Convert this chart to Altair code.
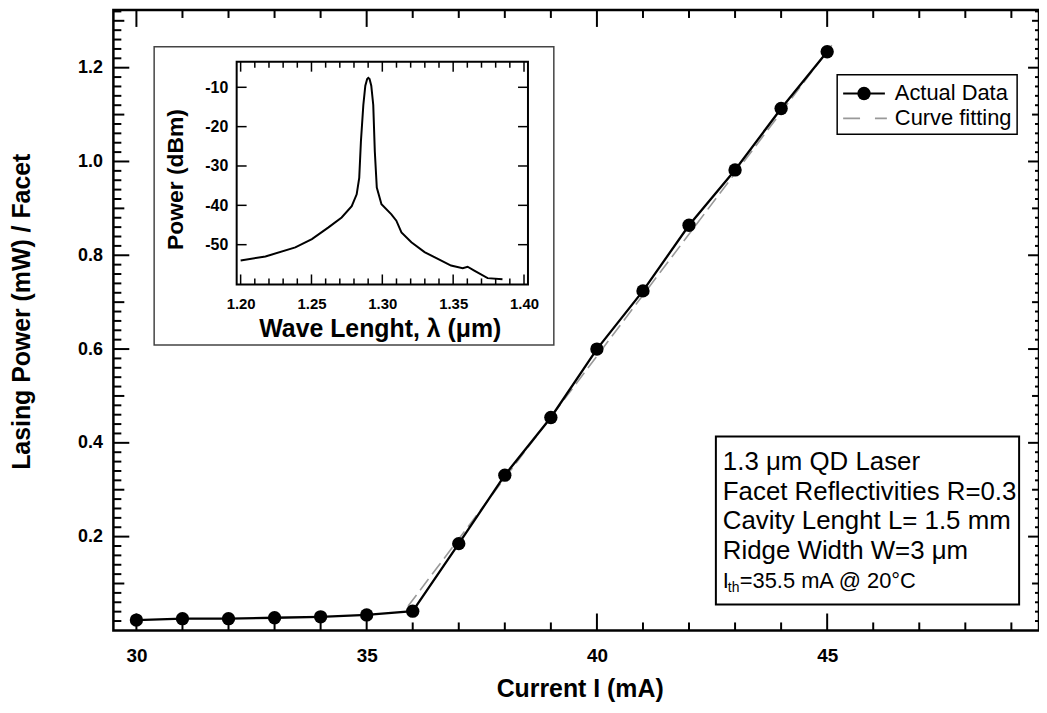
import altair as alt
import pandas as pd

# ---------------- data ----------------
current_mA = [30, 31, 32, 33, 34, 35, 36, 37, 38, 39, 40, 41, 42, 43, 44, 45]
power_mW = [0.022, 0.025, 0.025, 0.027, 0.029, 0.033, 0.041, 0.185, 0.331,
            0.454, 0.600, 0.724, 0.864, 0.982, 1.113, 1.234]
fit_current_mA = [35.9, 45.1]
fit_power_mW = [0.052, 1.248]

wavelength_um = [1.2000, 1.2175, 1.2386, 1.2503, 1.2620, 1.2713, 1.2784, 1.2819,
                 1.2837, 1.2849, 1.2866, 1.2880, 1.2893, 1.2901, 1.2910, 1.2922,
                 1.2936, 1.2947, 1.2961, 1.2994, 1.3064, 1.3099, 1.3135, 1.3205,
                 1.3298, 1.3392, 1.3485, 1.3567, 1.3602, 1.3649, 1.3743, 1.3848]
spectrum_dBm = [-54.0, -53.0, -50.7, -48.6, -45.6, -43.1, -40.2, -37.2,
                -33.0, -23.7, -14.5, -9.6, -7.9, -7.6, -7.9, -9.6,
                -14.5, -26.3, -35.5, -39.7, -42.3, -43.9, -46.9, -49.4,
                -51.9, -53.6, -55.3, -56.0, -55.6, -56.6, -58.5, -58.8]

x_major_ticks = [30, 35, 40, 45]
y_major_ticks = [0.2, 0.4, 0.6, 0.8, 1.0, 1.2]
y_mid_ticks = [0.1, 0.3, 0.5, 0.7, 0.9, 1.1, 1.3]
inset_x_ticks = [1.20, 1.25, 1.30, 1.35, 1.40]
inset_y_ticks = [-50, -40, -30, -20, -10]

legend_labels = ["Actual Data", "Curve fitting"]
info_lines = ["1.3 μm QD Laser", "Facet Reflectivities R=0.3",
              "Cavity Lenght L= 1.5 mm", "Ridge Width W=3 μm"]
info_last = ["I", "th", "=35.5 mA @ 20°C"]

# minor tick positions
x_minor_ticks = [v for v in range(30, 50) if v % 5 != 0]
y_minor_ticks = [round(0.02 * i, 2) for i in range(1, 67) if i % 5 != 0]
inset_x_minor = [round(1.20 + 0.01 * i, 2) for i in range(21) if i % 5 != 0]

# ---------------- layout ----------------
W, H = 931, 624
FONT = "Liberation Sans, Arial, sans-serif"
NARROW = "Liberation Sans Narrow, Liberation Sans, Arial, sans-serif"

X_DOM = [29.5, 49.6]
Y_DOM = [0, 1.323]
xs = alt.Scale(domain=X_DOM, nice=False, zero=False)
ys = alt.Scale(domain=Y_DOM, nice=False, zero=False)

IX_RANGE = [124, 417]
IY_RANGE = [276, 52]
ixs = alt.Scale(domain=[1.1972, 1.4028], range=IX_RANGE, nice=False, zero=False)
iys = alt.Scale(domain=[-60.1, -3.5], range=IY_RANGE, nice=False, zero=False)

one = alt.Data(values=[{}])


def vticks(values, scale, y0, y1, width=2):
    return alt.Chart(pd.DataFrame({"v": values})).mark_rule(
        color="black", strokeWidth=width).encode(
        x=alt.X("v:Q", scale=scale, axis=None),
        y=alt.value(y0), y2=alt.value(y1))


def hticks(values, scale, x0, x1, width=2):
    return alt.Chart(pd.DataFrame({"v": values})).mark_rule(
        color="black", strokeWidth=width).encode(
        y=alt.Y("v:Q", scale=scale, axis=None),
        x=alt.value(x0), x2=alt.value(x1))


# ---------------- main layers ----------------
inset_box = alt.Chart(one).mark_rect(fill="white", stroke="#444", strokeWidth=1.5).encode(
    x=alt.value(41), x2=alt.value(443), y=alt.value(37), y2=alt.value(337))

main_ticks = [
    vticks(x_major_ticks, xs, H, H - 17),
    vticks(x_minor_ticks, xs, H, H - 8),
    vticks(x_major_ticks, xs, 0, 17),
    vticks(x_minor_ticks, xs, 0, 8),
    hticks(y_major_ticks, ys, 0, 16),
    hticks(y_mid_ticks, ys, 0, 11),
    hticks(y_minor_ticks, ys, 0, 8),
    hticks(y_major_ticks, ys, W, W - 11),
    hticks(y_mid_ticks, ys, W, W - 7),
    hticks(y_minor_ticks, ys, W, W - 4),
]

df = pd.DataFrame({"I": current_mA, "P": power_mW})
fit_df = pd.DataFrame({"I": fit_current_mA, "P": fit_power_mW})

fit_line = alt.Chart(fit_df).mark_line(color="#999999", strokeWidth=1.6, strokeDash=[14, 6]).encode(
    x=alt.X("I:Q", scale=xs, axis=None), y=alt.Y("P:Q", scale=ys, axis=None))

data_line = alt.Chart(df).mark_line(color="black", strokeWidth=2.3).encode(
    x=alt.X("I:Q", scale=xs, title="Current I (mA)",
            axis=alt.Axis(orient="bottom", values=x_major_ticks, format="d", ticks=False,
                          tickSize=0, domain=False, grid=False, labelFont=NARROW,
                          labelFontSize=19, labelFontWeight="bold", labelPadding=16,
                          labelColor="black", titleFont=NARROW, titleFontSize=25,
                          titleFontWeight="bold", titleColor="black", titleX=469,
                          titleY=58, titleBaseline="middle")),
    y=alt.Y("P:Q", scale=ys, title="Lasing Power (mW) / Facet",
            axis=alt.Axis(orient="left", values=y_major_ticks, format=".1f", ticks=False,
                          tickSize=0, domain=False, grid=False, labelFont=FONT,
                          labelFontSize=18, labelFontWeight="bold", labelPadding=11,
                          labelColor="black", titleFont=FONT, titleFontSize=25,
                          titleFontWeight="bold", titleColor="black", titleX=-92,
                          titleY=303, titleBaseline="middle")))

data_pts = alt.Chart(df).mark_circle(size=180, color="black", opacity=1).encode(
    x=alt.X("I:Q", scale=xs, axis=None), y=alt.Y("P:Q", scale=ys, axis=None))

# legend (drawn by hand)
leg_box = alt.Chart(one).mark_rect(fill="white", stroke="black", strokeWidth=1.5).encode(
    x=alt.value(728), x2=alt.value(909), y=alt.value(65), y2=alt.value(125))
leg_line1 = alt.Chart(one).mark_rule(color="black", strokeWidth=2).encode(
    x=alt.value(734), x2=alt.value(776), y=alt.value(84))
leg_dot = alt.Chart(one).mark_circle(size=180, color="black", opacity=1).encode(
    x=alt.value(755), y=alt.value(84))
leg_line2 = alt.Chart(one).mark_rule(color="#999999", strokeWidth=1.6, strokeDash=[17, 15]).encode(
    x=alt.value(734), x2=alt.value(778), y=alt.value(109))
leg_t1 = alt.Chart(one).mark_text(align="left", baseline="middle", font=FONT, fontSize=22,
                                   color="black").encode(
    x=alt.value(786), y=alt.value(84), text=alt.value(legend_labels[0]))
leg_t2 = alt.Chart(one).mark_text(align="left", baseline="middle", font=FONT, fontSize=22,
                                   color="black").encode(
    x=alt.value(786), y=alt.value(109), text=alt.value(legend_labels[1]))

# info box
info_box = alt.Chart(one).mark_rect(fill="white", stroke="black", strokeWidth=2).encode(
    x=alt.value(606), x2=alt.value(911), y=alt.value(429), y2=alt.value(598))
info_texts = []
for i, line in enumerate(info_lines):
    info_texts.append(alt.Chart(one).mark_text(
        align="left", baseline="middle", font=FONT, fontSize=26, color="black").encode(
        x=alt.value(613), y=alt.value(455 + 29.7 * i), text=alt.value(line)))
info_texts.append(alt.Chart(one).mark_text(
    align="left", baseline="middle", font=FONT, fontSize=22, color="black").encode(
    x=alt.value(613), y=alt.value(574), text=alt.value(info_last[0])))
info_texts.append(alt.Chart(one).mark_text(
    align="left", baseline="middle", font=FONT, fontSize=14, color="black").encode(
    x=alt.value(618), y=alt.value(581), text=alt.value(info_last[1])))
info_texts.append(alt.Chart(one).mark_text(
    align="left", baseline="middle", font=FONT, fontSize=22, color="black").encode(
    x=alt.value(630), y=alt.value(574), text=alt.value(info_last[2])))

# ---------------- inset layers ----------------
spec_df = pd.DataFrame({"wl": wavelength_um, "dbm": spectrum_dBm})
spec_line = alt.Chart(spec_df).mark_line(color="black", strokeWidth=2).encode(
    x=alt.X("wl:Q", scale=ixs, title="Wave Lenght, λ (μm)",
            axis=alt.Axis(orient="bottom", offset=-(H - IY_RANGE[0]), values=inset_x_ticks,
                          format=".2f", ticks=False, tickSize=0, domain=False, grid=False,
                          labelFont=FONT, labelFontSize=15, labelFontWeight="bold",
                          labelPadding=12, labelColor="black", zindex=2,
                          titleFont=FONT, titleFontSize=25, titleFontWeight="bold",
                          titleColor="black", titleX=268, titleY=44, titleBaseline="middle")),
    y=alt.Y("dbm:Q", scale=iys, title="Power (dBm)",
            axis=alt.Axis(orient="left", offset=-IX_RANGE[0], values=inset_y_ticks,
                          labelExpr="toString(datum.value)", ticks=False, tickSize=0,
                          domain=False, grid=False,
                          labelFont=FONT, labelFontSize=16, labelFontWeight="bold",
                          labelPadding=9, labelColor="black", zindex=2,
                          titleFont=FONT, titleFontSize=23, titleFontWeight="bold",
                          titleColor="black", titleX=-61, titleY=170,
                          titleBaseline="middle")))

inset_frame = alt.Chart(one).mark_rect(fillOpacity=0, stroke="black", strokeWidth=2).encode(
    x=alt.value(IX_RANGE[0]), x2=alt.value(IX_RANGE[1]),
    y=alt.value(IY_RANGE[1]), y2=alt.value(IY_RANGE[0]))

inset_ticks = [
    vticks(inset_x_ticks, ixs, IY_RANGE[0], IY_RANGE[0] - 10, 1.5),
    vticks(inset_x_minor, ixs, IY_RANGE[0], IY_RANGE[0] - 6, 1.5),
    vticks(inset_x_ticks, ixs, IY_RANGE[1], IY_RANGE[1] + 10, 1.5),
    vticks(inset_x_minor, ixs, IY_RANGE[1], IY_RANGE[1] + 6, 1.5),
    hticks(inset_y_ticks, iys, IX_RANGE[0], IX_RANGE[0] + 10, 1.5),
    hticks(inset_y_ticks, iys, IX_RANGE[1], IX_RANGE[1] - 10, 1.5),
]

layers = [inset_box, *main_ticks, fit_line, data_line, data_pts,
          leg_box, leg_line1, leg_dot, leg_line2, leg_t1, leg_t2,
          info_box, *info_texts,
          spec_line, inset_frame, *inset_ticks]

chart = alt.layer(*layers).resolve_scale(
    x="independent", y="independent"
).properties(
    width=W, height=H,
    padding={"left": 106, "top": 0, "right": 0, "bottom": 73},
    autosize=alt.AutoSizeParams(type="none"),
    background="white",
).configure_view(stroke="black", strokeWidth=2.5)

chart.save("out.html", embed_options={"renderer": "svg", "actions": False})
